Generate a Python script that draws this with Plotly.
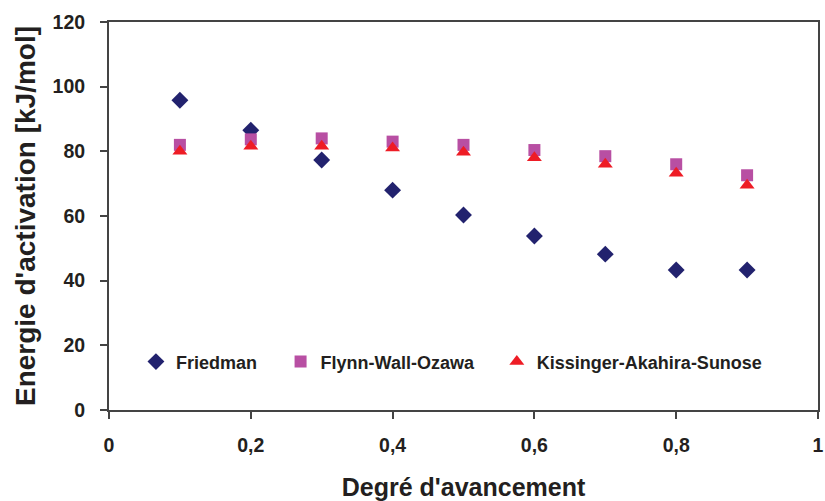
import plotly.graph_objects as go

# degree of conversion
alpha = [0.1, 0.2, 0.3, 0.4, 0.5, 0.6, 0.7, 0.8, 0.9]
# activation energy (kJ/mol)
friedman = [95.8, 86.5, 77.3, 68.0, 60.3, 53.8, 48.2, 43.3, 43.3]
fwo = [82.0, 83.7, 84.0, 83.0, 82.0, 80.4, 78.5, 76.0, 72.6]
kas = [80.0, 81.6, 81.6, 81.0, 79.7, 78.0, 76.0, 73.2, 69.5]

x_ticks = [0, 0.2, 0.4, 0.6, 0.8, 1]
x_labels = ['0', '0,2', '0,4', '0,6', '0,8', '1']
y_ticks = [0, 20, 40, 60, 80, 100, 120]

font_fam = 'Liberation Sans, Arial, sans-serif'
txt = '#231F20'

fig = go.Figure()
fig.add_trace(go.Scatter(x=alpha, y=friedman, mode='markers', name='<b>Friedman</b>',
                         legend='legend',
                         marker=dict(symbol='diamond', size=13, color='#22226E')))
fig.add_trace(go.Scatter(x=alpha, y=fwo, mode='markers', name='<b>Flynn-Wall-Ozawa</b>',
                         legend='legend2',
                         marker=dict(symbol='square', size=12, color='#B84FA3')))
fig.add_trace(go.Scatter(x=alpha, y=kas, mode='markers', name='<b>Kissinger-Akahira-Sunose</b>',
                         legend='legend3',
                         marker=dict(symbol='triangle-up', size=13, color='#EE1C25')))

axis_common = dict(showgrid=False, zeroline=False, showline=True, linecolor='#444444',
                   linewidth=2, mirror=True, ticks='outside', ticklen=7,
                   tickcolor='#444444', tickwidth=1.5, automargin=False,
                   tickfont=dict(family=font_fam, size=19.5, color=txt))

# each legend entry placed on its own so the spacing matches the original
leg_common = dict(orientation='h', y=0.124, xanchor='left', yanchor='middle',
                  bgcolor='rgba(0,0,0,0)', font=dict(size=18, family=font_fam, color=txt))

fig.update_layout(
    width=825, height=501,
    margin=dict(l=109, r=7, t=22, b=91),
    paper_bgcolor='white', plot_bgcolor='white',
    font=dict(family=font_fam, color=txt),
    xaxis=dict(range=[0, 1], tickvals=x_ticks, ticktext=['<b>%s</b>' % t for t in x_labels],
               ticklabelstandoff=10,
               title=dict(text="<b>Degré d'avancement</b>", font=dict(size=25), standoff=24),
               **axis_common),
    yaxis=dict(range=[0, 120], tickvals=y_ticks, ticktext=['<b>%d</b>' % v for v in y_ticks],
               ticklabelstandoff=11,
               title=dict(text="<b>Energie d'activation [kJ/mol]</b>", font=dict(size=28), standoff=9),
               **axis_common),
    legend=dict(x=0.038, **leg_common),
    legend2=dict(x=0.242, **leg_common),
    legend3=dict(x=0.547, **leg_common),
    showlegend=True,
)

# drop the browser's default body margin so the figure fills the window
fig.write_html("out.html", config={'displayModeBar': False},
               post_script="document.body.style.margin='0';document.body.style.overflow='hidden';")
